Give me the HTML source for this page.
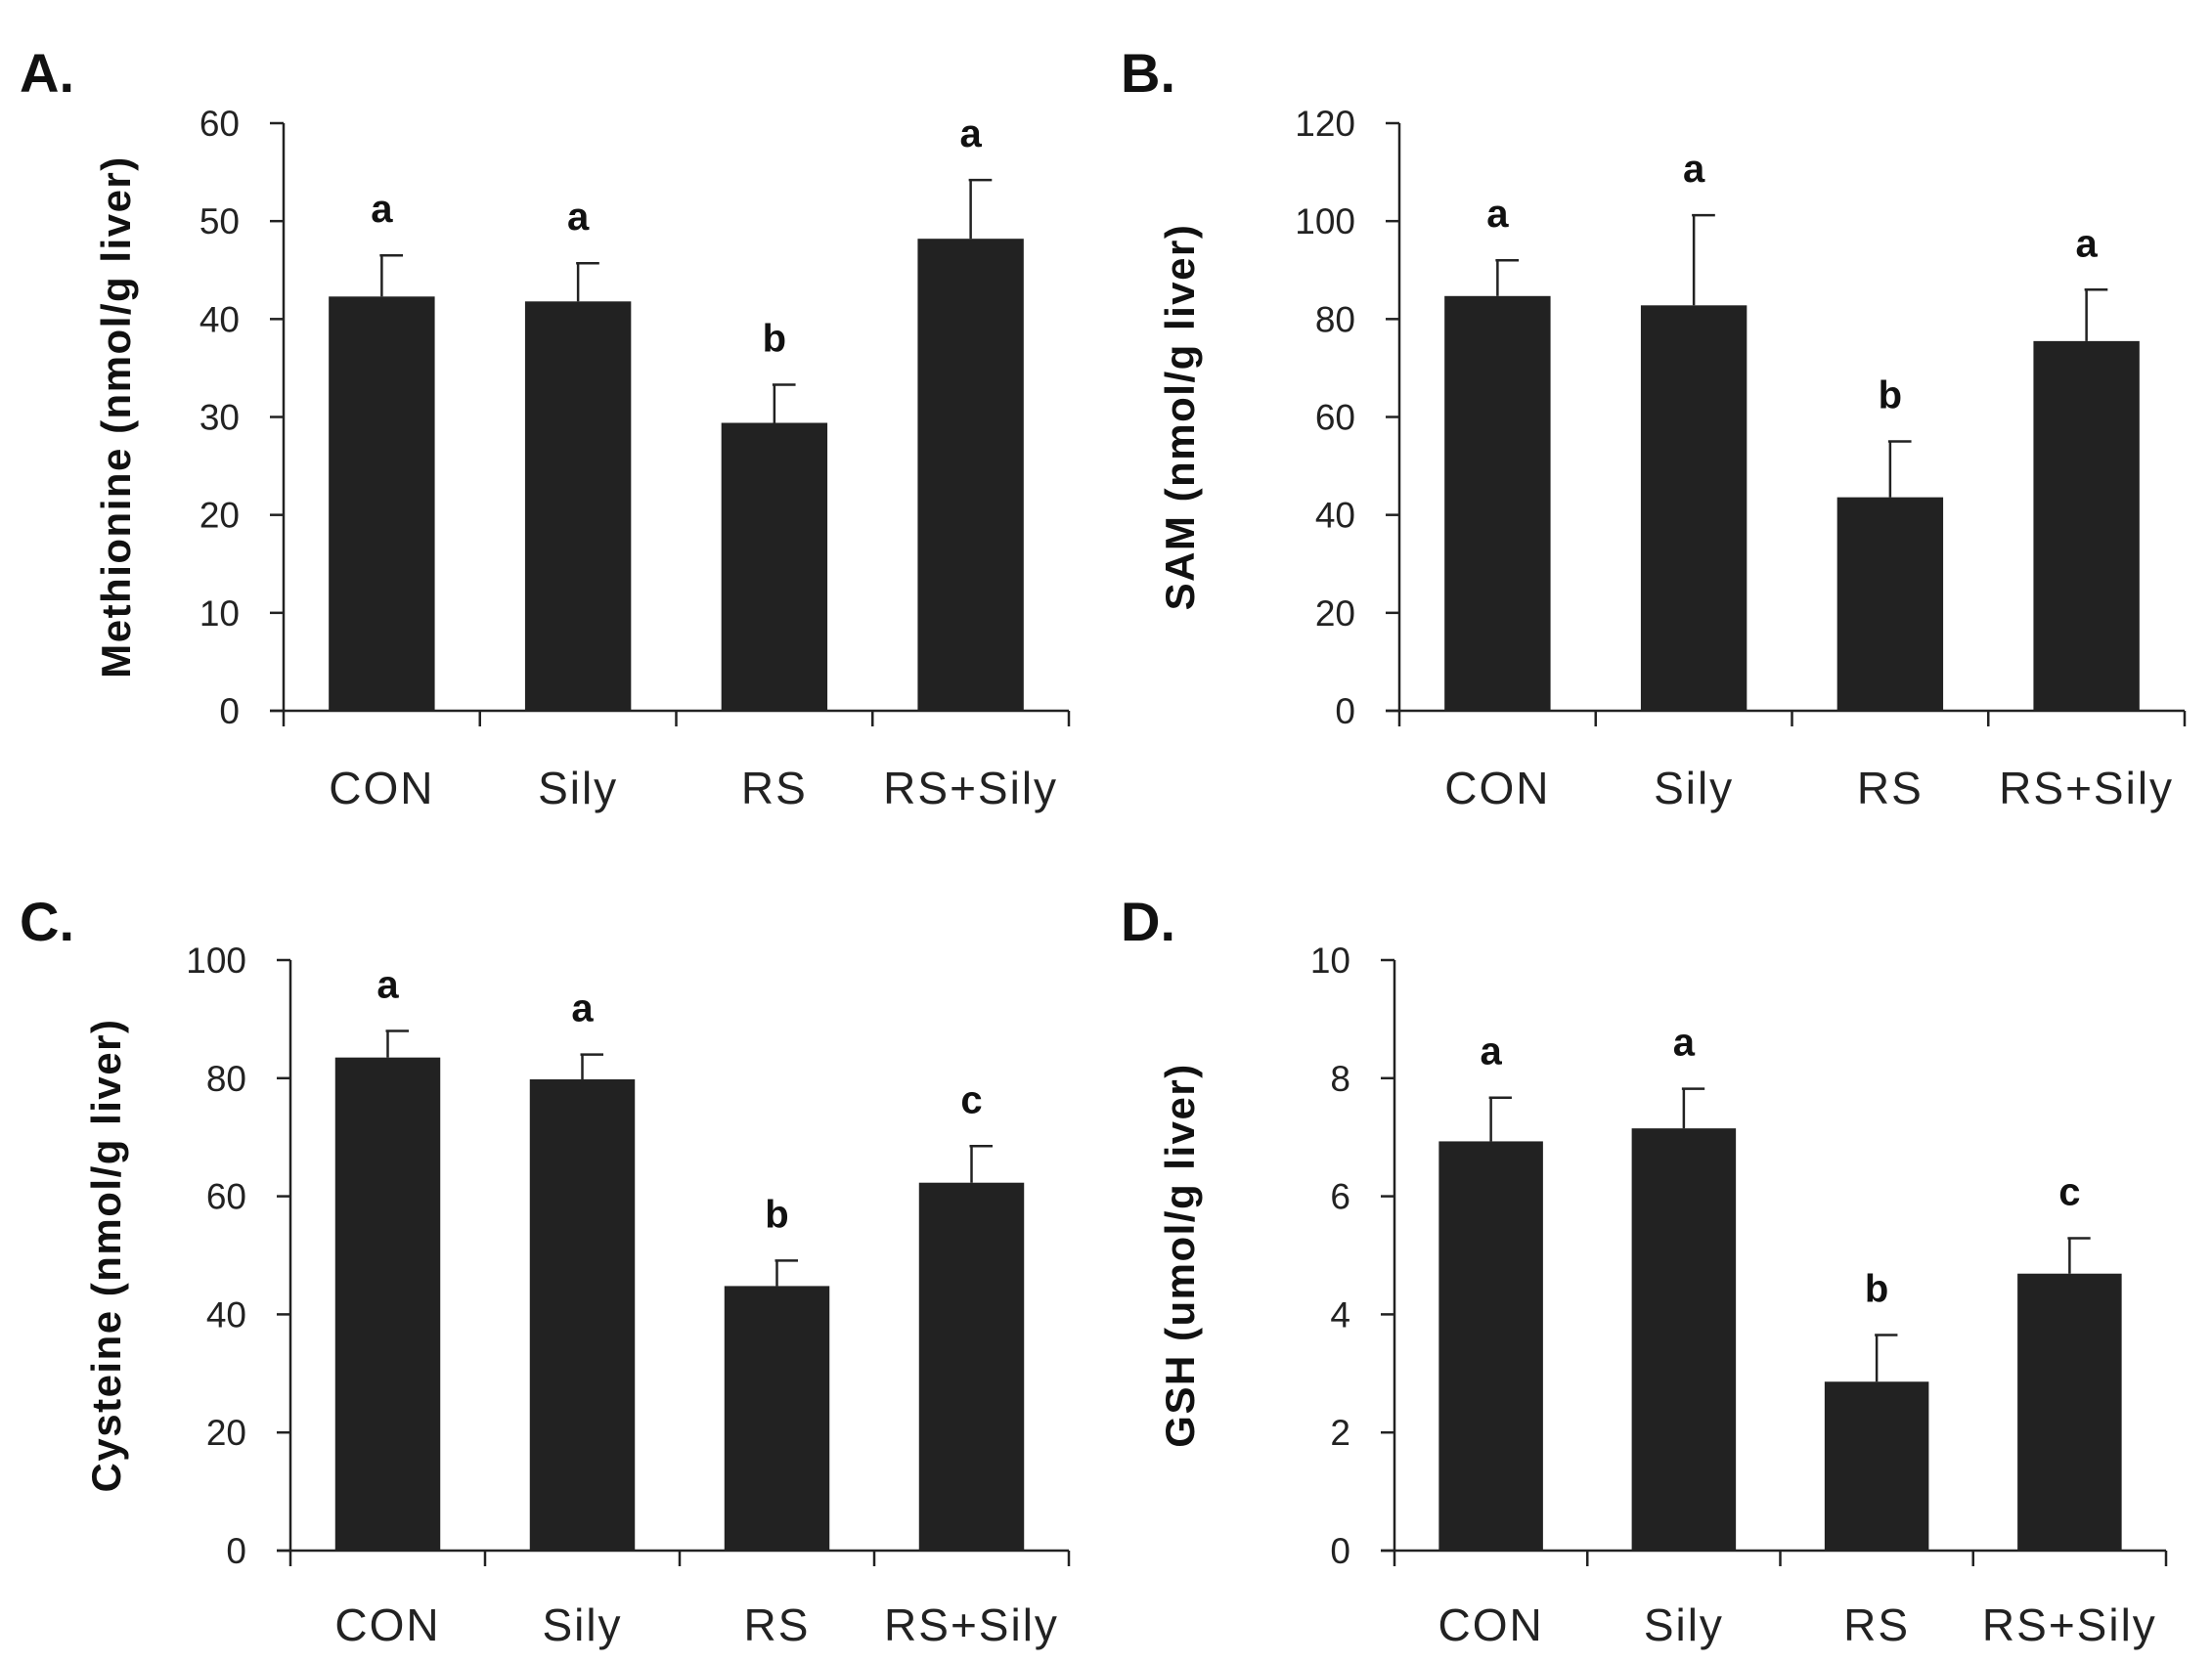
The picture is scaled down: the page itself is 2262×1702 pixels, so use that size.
<!DOCTYPE html>
<html><head><meta charset="utf-8"><style>
html,body{margin:0;padding:0;background:#fff;}
svg{display:block;}
text{font-family:"Liberation Sans",sans-serif;}
</style></head><body>
<svg id="fig" width="2262" height="1702" viewBox="0 0 2262 1702" xmlns="http://www.w3.org/2000/svg"></svg>
<script>
const categories = ["CON","Sily","RS","RS+Sily"];
const methionineMeans = [42.3, 41.8, 29.4, 48.2];
const methionineErr = [4.2, 3.9, 3.9, 6.0];
const methionineLetters = ["a","a","b","a"];
const methionineTicks = [0,10,20,30,40,50,60];
const samMeans = [84.7, 82.8, 43.6, 75.5];
const samErr = [7.3, 18.4, 11.4, 10.5];
const samLetters = ["a","a","b","a"];
const samTicks = [0,20,40,60,80,100,120];
const cysteineMeans = [83.5, 79.8, 44.8, 62.3];
const cysteineErr = [4.5, 4.2, 4.3, 6.2];
const cysteineLetters = ["a","a","b","c"];
const cysteineTicks = [0,20,40,60,80,100];
const gshMeans = [6.93, 7.15, 2.86, 4.69];
const gshErr = [0.74, 0.67, 0.79, 0.60];
const gshLetters = ["a","a","b","c"];
const gshTicks = [0,2,4,6,8,10];

const NS="http://www.w3.org/2000/svg";
const svg=document.getElementById('fig');
function mk(tag,attrs,parent){const e=document.createElementNS(NS,tag);for(const k in attrs)e.setAttribute(k,attrs[k]);(parent||svg).appendChild(e);return e;}

const panels=[
 {id:"a",label:"A.",title:"Methionine (nmol/g liver)",means:methionineMeans,err:methionineErr,letters:methionineLetters,ticks:methionineTicks,x0:290,x1:1093,yTop:126,yZero:727,lx:20,ly:94,tx:133,catY:822},
 {id:"b",label:"B.",title:"SAM (nmol/g liver)",means:samMeans,err:samErr,letters:samLetters,ticks:samTicks,x0:1431,x1:2234,yTop:126,yZero:727,lx:1146,ly:94,tx:1221,catY:822},
 {id:"c",label:"C.",title:"Cysteine (nmol/g liver)",means:cysteineMeans,err:cysteineErr,letters:cysteineLetters,ticks:cysteineTicks,x0:297,x1:1093,yTop:982,yZero:1586,lx:20,ly:962,tx:123,catY:1678},
 {id:"d",label:"D.",title:"GSH (umol/g liver)",means:gshMeans,err:gshErr,letters:gshLetters,ticks:gshTicks,x0:1426,x1:2215,yTop:982,yZero:1586,lx:1146,ly:962,tx:1221,catY:1678}
];

panels.forEach(p=>{
  const g=mk('g',{});
  
  
  const maxV=p.ticks[p.ticks.length-1];
  const y=v=>p.yZero-(v/maxV)*(p.yZero-p.yTop);
  const n=categories.length;
  const step=(p.x1-p.x0)/n;
  const xc=i=>p.x0+step*(i+0.5);
  const bw=step*0.54;

  const pl=mk('text',{x:p.lx,y:p.ly,'font-size':56,'font-weight':'bold',fill:'#111'},g);
  pl.textContent=p.label;
  
  

  const yt=mk('text',{x:0,y:0,'font-size':42,'font-weight':'bold',fill:'#111','text-anchor':'middle','letter-spacing':1.5,transform:`translate(${p.tx},${(p.yTop+p.yZero)/2}) rotate(-90)`},g);
  yt.textContent=p.title;
  
  

  p.means.forEach((v,i)=>{
    const top=y(v+p.err[i]);
    const el=mk('line',{x1:xc(i),x2:xc(i),y1:y(v),y2:top,stroke:'#222','stroke-width':2.5},g);
    
    
    const cap=mk('line',{x1:xc(i)-2,x2:xc(i)+bw*0.2,y1:top,y2:top,stroke:'#222','stroke-width':2.5},g);
    
    
    const b=mk('rect',{x:xc(i)-bw/2,y:y(v),width:bw,height:p.yZero-y(v),fill:'#222'},g);
    
    
    const lt=mk('text',{x:xc(i),y:top-34,'font-size':40,'font-weight':'bold','text-anchor':'middle',fill:'#111'},g);
    lt.textContent=p.letters[i];
    
    
    const cl=mk('text',{x:xc(i),y:p.catY,'font-size':46,'text-anchor':'middle','letter-spacing':2,fill:'#222'},g);
    cl.textContent=categories[i];
    
    
  });

  const ya=mk('line',{x1:p.x0,x2:p.x0,y1:p.yTop,y2:p.yZero,stroke:'#222','stroke-width':2.5},g);
  
  
  const xa=mk('line',{x1:p.x0-14,x2:p.x1,y1:p.yZero,y2:p.yZero,stroke:'#222','stroke-width':2.5},g);
  
  
  for(let i=0;i<=n;i++){
    const tk=mk('line',{x1:p.x0+step*i,x2:p.x0+step*i,y1:p.yZero,y2:p.yZero+16,stroke:'#222','stroke-width':2.5},g);
    
    
  }
  p.ticks.forEach(t=>{
    const tk=mk('line',{x1:p.x0-14,x2:p.x0,y1:y(t),y2:y(t),stroke:'#222','stroke-width':2.5},g);
    
    
    const tl=mk('text',{x:p.x0-45,y:y(t)+13,'font-size':37,'text-anchor':'end',fill:'#222'},g);
    tl.textContent=t;
    
    
  });
});
</script>
</body></html>
